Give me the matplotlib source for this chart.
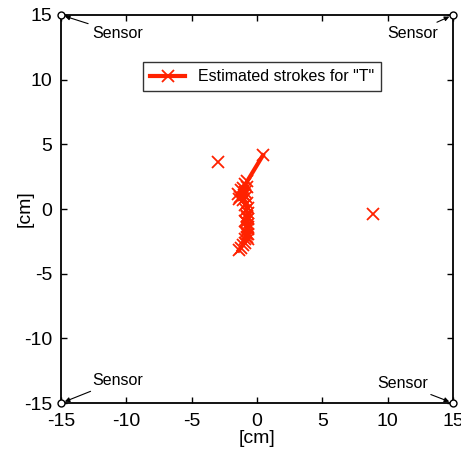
import numpy as np
import matplotlib
matplotlib.use("Agg")
import matplotlib.pyplot as plt

plt.rcParams['font.family'] = ['Liberation Sans', 'DejaVu Sans']
plt.rcParams['axes.unicode_minus'] = False

# estimated stroke for "T" (cm), NaN breaks the line for the stray points
stroke_x = [0.45, -0.75,
            -0.9, -1.1, -1.45, -1.3, -0.95, -0.75, -1.0, -1.4, -1.2, -0.85, -1.05, -0.8,
            -0.9, -0.7, -0.85, -0.7, -0.8, -0.7, -0.9, -0.7, -0.8, -0.7, -0.85, -0.7,
            -0.8, -0.7, -0.75, -0.85, -0.7, -0.8, -0.9,
            -0.95, -1.1, -1.25, -1.4,
            np.nan, -3.0, np.nan, 8.9]
stroke_y = [4.15, 2.15,
            1.9, 1.6, 1.2, 0.95, 1.35, 1.7, 1.1, 0.8, 1.45, 0.95, 0.7, 0.5,
            0.3, 0.1, -0.1, -0.3, -0.5, -0.75, -0.95, -1.15, -1.35, -1.55, -1.75, -1.95,
            -2.15, -2.35, -0.6, -1.0, -1.4, -1.9, -2.3,
            -2.6, -2.8, -3.0, -3.2,
            np.nan, 3.65, np.nan, -0.35]

sensor_x = [-15, 15, -15, 15]
sensor_y = [15, 15, -15, -15]
ticks = [-15, -10, -5, 0, 5, 10, 15]

fig = plt.figure(figsize=(4.61, 4.53), dpi=100)
ax = fig.add_axes([0.132, 0.110, 0.851, 0.857])

red = '#ff2200'
ax.plot(stroke_x, stroke_y, color=red, lw=3, marker='x', ms=8, mew=1.3,
        label='Estimated strokes for "T"')
ax.plot(sensor_x, sensor_y, 'o', mfc='white', mec='black', ms=5, mew=1,
        clip_on=False, zorder=5)

# sensor labels with arrows
arrow = dict(arrowstyle='-|>', color='black', lw=0.8, mutation_scale=7,
             shrinkA=1, shrinkB=3)
ax.annotate('Sensor', xy=(-15, 15), xytext=(-12.6, 13.6), fontsize=11.5,
            va='center', ha='left', arrowprops=arrow)
ax.annotate('Sensor', xy=(15, 15), xytext=(13.85, 13.6), fontsize=11.5,
            va='center', ha='right', arrowprops=arrow)
ax.annotate('Sensor', xy=(-15, -15), xytext=(-12.6, -13.25), fontsize=11.5,
            va='center', ha='left', arrowprops=arrow)
ax.annotate('Sensor', xy=(15, -15), xytext=(13.1, -13.5), fontsize=11.5,
            va='center', ha='right', arrowprops=arrow)

ax.set_xlim(-15, 15)
ax.set_ylim(-15, 15)
ax.set_xticks(ticks)
ax.set_yticks(ticks)
ax.tick_params(axis='both', direction='in', top=True, right=True, length=4,
               width=1, labelsize=14)
ax.tick_params(axis='x', pad=7)
ax.tick_params(axis='y', pad=6)
for s in ax.spines.values():
    s.set_linewidth(1.3)
ax.set_xlabel('[cm]', fontsize=14, va='center')
ax.set_ylabel('[cm]', fontsize=14, va='center')
ax.xaxis.set_label_coords(0.5, -0.09)
ax.yaxis.set_label_coords(-0.092, 0.5)

leg = ax.legend(loc='upper center', bbox_to_anchor=(0.513, 0.879),
                borderaxespad=0, fontsize=11.5, fancybox=False,
                edgecolor='#333333', framealpha=1, handlelength=2.2,
                borderpad=0.45)
leg.get_frame().set_linewidth(1.0)

fig.savefig('out.png', dpi=100)
